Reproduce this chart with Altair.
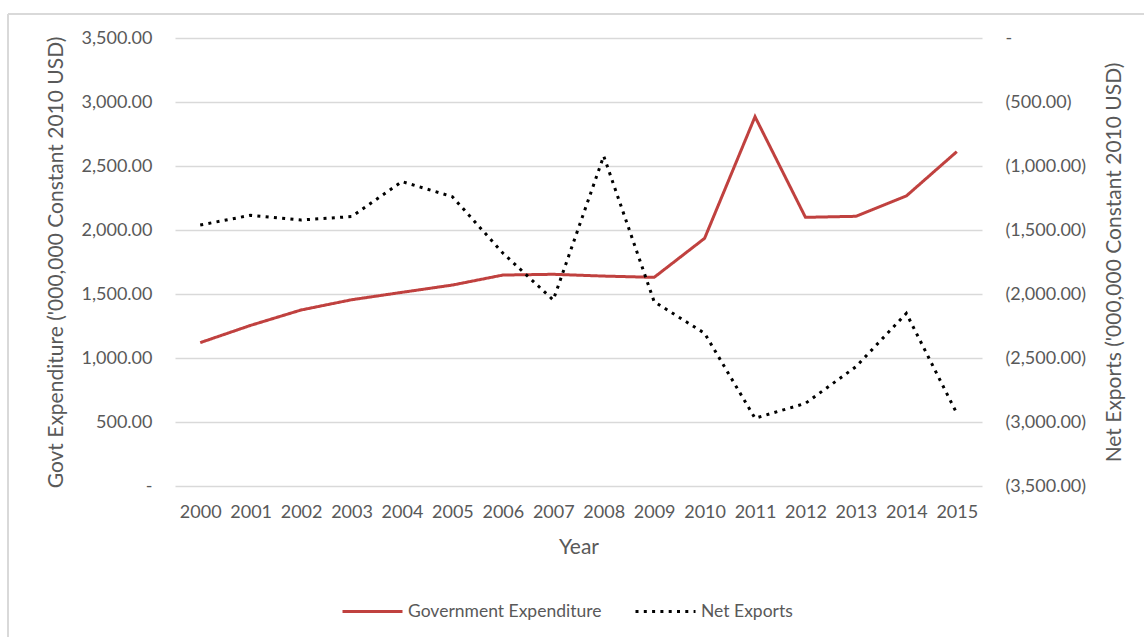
import altair as alt
import pandas as pd

years = [str(y) for y in range(2000, 2016)]
gov_exp = [1120, 1255, 1375, 1455, 1513, 1570, 1648, 1654, 1640, 1630, 1935, 2885, 2099, 2107, 2266, 2612]
net_exp = [-1461, -1385, -1422, -1395, -1122, -1240, -1680, -2047, -922, -2060, -2307, -2971, -2854, -2568, -2151, -2932]
series = ["Government Expenditure", "Net Exports"]

df_gov = pd.DataFrame({"Year": years, "value": gov_exp, "series": series[0]})
df_net = pd.DataFrame({"Year": years, "value": net_exp, "series": series[1]})

FONT = "Lato"
TXT = "#595959"
LBL = 18
TTL = 21

color = alt.Color("series:N", scale=alt.Scale(domain=series, range=["#c0413f", "#000000"]),
                  legend=alt.Legend(title=None, orient="none", direction="horizontal",
                                    legendX=166, legendY=542, symbolType="stroke",
                                    symbolSize=3600, symbolStrokeWidth=3, columnPadding=27,
                                    labelOffset=4, labelLimit=0, labelFontSize=17.5,
                                    labelColor=TXT, labelFont=FONT))
dash = alt.StrokeDash("series:N", scale=alt.Scale(domain=series, range=[[1, 0], [3, 5.3]]), legend=None)

x = alt.X("Year:N", scale=alt.Scale(type="point", padding=0.5),
          axis=alt.Axis(title="Year", labelAngle=0, domain=False, ticks=False, labelPadding=17,
                        titlePadding=15))

gov = alt.Chart(df_gov).mark_line(strokeWidth=3).encode(
    x=x,
    y=alt.Y("value:Q", scale=alt.Scale(domain=[0, 3500], nice=False),
            axis=alt.Axis(title="Govt Expenditure ('000,000 Constant 2010 USD)",
                          values=list(range(0, 3501, 500)), domain=False, ticks=False,
                          labelPadding=23, gridColor="#d9d9d9", gridWidth=1.3,
                          titleAngle=270, titleX=-119, titleY=224, titleBaseline="middle",
                          titleAlign="center",
                          labelExpr="datum.value == 0 ? '-' : format(datum.value, ',.2f')")),
    color=color, strokeDash=dash,
)

net = alt.Chart(df_net).mark_line(strokeWidth=3).encode(
    x=x,
    y=alt.Y("value:Q", scale=alt.Scale(domain=[-3500, 0], nice=False),
            axis=alt.Axis(title="Net Exports ('000,000 Constant 2010 USD)", orient="right",
                          values=list(range(-3500, 1, 500)), domain=False, ticks=False, grid=False,
                          labelPadding=23, titleAngle=270, titleX=132, titleY=224,
                          titleBaseline="middle", titleAlign="center",
                          labelExpr="datum.value == 0 ? '-' : '(' + format(-datum.value, ',.2f') + ')'")),
    color=color, strokeDash=dash,
)

frame_src = pd.DataFrame({"k": [0]})
frame_top = alt.Chart(frame_src).mark_rule(color="#d9d9d9", strokeWidth=2).encode(
    x=alt.value(-167), x2=alt.value(980), y=alt.value(-24))
frame_left = alt.Chart(frame_src).mark_rule(color="#d9d9d9", strokeWidth=2).encode(
    x=alt.value(-167), y=alt.value(-24), y2=alt.value(610))

chart = alt.layer(frame_top, frame_left, gov, net).resolve_scale(y="independent").properties(
    width=807, height=448,
    background="white",
    autosize=alt.AutoSizeParams(type="none"),
    padding={"left": 175, "top": 38, "right": 162, "bottom": 151},
).configure_view(stroke=None).configure_axis(
    labelFont=FONT, titleFont=FONT, labelFontSize=LBL, titleFontSize=TTL,
    labelColor=TXT, titleColor=TXT, titleFontWeight="normal",
)

chart.save("out.html", embed_options={"renderer": "svg", "actions": False})
